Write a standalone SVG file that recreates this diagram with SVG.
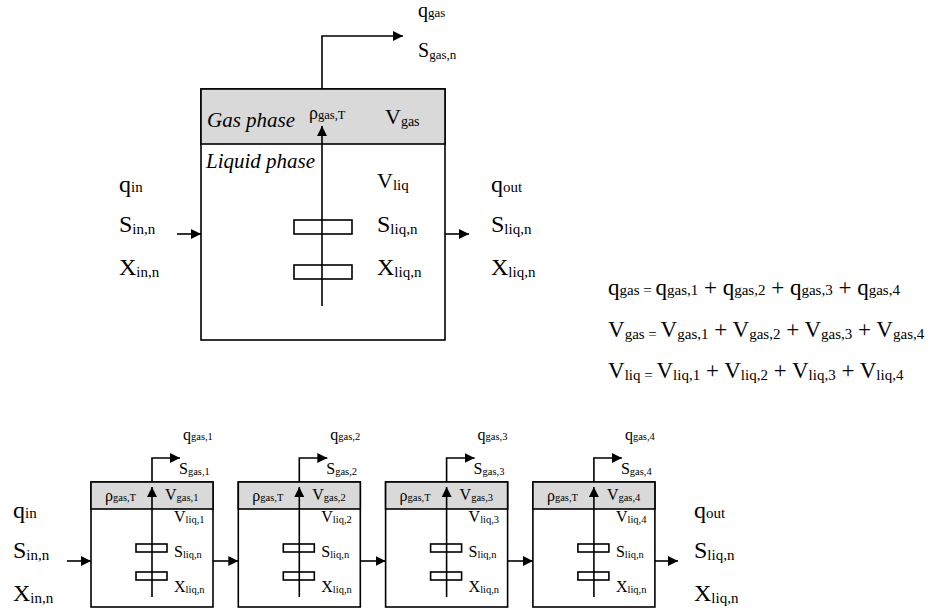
<svg xmlns="http://www.w3.org/2000/svg" width="933" height="610" viewBox="0 0 933 610">
<style>
text{font-family:"Liberation Serif","Times New Roman",serif;fill:#000}
.L{font-size:24px}.Ls{font-size:15px}
.K{font-size:22px}.Ks{font-size:14px}
.G{font-size:20px}.Gs{font-size:13px}
.R{font-size:18px}.Rs{font-size:12.5px}
.M{font-size:16px}.Ms{font-size:10.5px}
.E{font-size:23px}.Es{font-size:15px}
.I{font-size:21px;font-style:italic}
.box{fill:#fff;stroke:#000;stroke-width:1.6}
.gas{fill:#d9d9d9;stroke:#000;stroke-width:1.6}
.ar{fill:none;stroke:#000;stroke-width:1.6;marker-end:url(#ah)}
.el{fill:#fff;stroke:#000;stroke-width:1.6}
</style>
<defs>
<marker id="ah" markerUnits="userSpaceOnUse" markerWidth="11" markerHeight="10" refX="10" refY="5" orient="auto">
<path d="M0,0 L10,5 L0,10 z" fill="#000"/>
</marker>
<g id="bbox">
<rect class="box" x="0" y="0" width="122" height="125"/>
<rect class="gas" x="0" y="0" width="122" height="27"/>
<rect class="el" x="45" y="62" width="31" height="8"/>
<rect class="el" x="45" y="90" width="31" height="8"/>
</g>
</defs>

<!-- Top big reactor -->
<g id="reactor">
<rect class="box" x="201" y="89" width="244" height="251"/>
<rect class="gas" x="201" y="89" width="244" height="55"/>
<rect class="el" x="294" y="220" width="58" height="14"/>
<rect class="el" x="294" y="265" width="58" height="14"/>
<text class="I" x="207" y="127">Gas phase</text>
<text class="I" x="206" y="168">Liquid phase</text>
<text x="309" y="119"><tspan class="R">ρ</tspan><tspan class="Rs">gas,T</tspan></text>
<text x="385" y="124"><tspan class="K">V</tspan><tspan class="Ks" dy="2">gas</tspan></text>
<text x="377" y="188"><tspan class="K">V</tspan><tspan class="Ls" dy="2">liq</tspan></text>
<text x="377" y="232"><tspan class="L">S</tspan><tspan class="Ls" dy="2">liq,n</tspan></text>
<text x="377" y="275"><tspan class="L">X</tspan><tspan class="Ls" dy="2">liq,n</tspan></text>
</g>

<g id="top-labels">
<text x="119" y="192"><tspan class="L">q</tspan><tspan class="Ls">in</tspan></text>
<text x="119" y="232"><tspan class="L">S</tspan><tspan class="Ls" dy="2">in,n</tspan></text>
<text x="119" y="275"><tspan class="L">X</tspan><tspan class="Ls" dy="2">in,n</tspan></text>
<text x="491" y="192"><tspan class="L">q</tspan><tspan class="Ls">out</tspan></text>
<text x="491" y="232"><tspan class="L">S</tspan><tspan class="Ls" dy="2">liq,n</tspan></text>
<text x="491" y="275"><tspan class="L">X</tspan><tspan class="Ls" dy="2">liq,n</tspan></text>
<text x="418" y="17"><tspan class="G">q</tspan><tspan class="Gs">gas</tspan></text>
<text x="418" y="57"><tspan class="G">S</tspan><tspan class="Gs" dy="2">gas,n</tspan></text>
</g>

<g id="equations">
<text x="608" y="295"><tspan class="E">q</tspan><tspan class="Es">gas = </tspan><tspan class="E">q</tspan><tspan class="Es">gas,1</tspan><tspan class="E"> + q</tspan><tspan class="Es">gas,2</tspan><tspan class="E"> + q</tspan><tspan class="Es">gas,3</tspan><tspan class="E"> + q</tspan><tspan class="Es">gas,4</tspan></text>
<text x="608" y="337"><tspan class="E">V</tspan><tspan class="Es" dy="2">gas = </tspan><tspan class="E" dy="-2">V</tspan><tspan class="Es" dy="2">gas,1</tspan><tspan class="E" dy="-2"> + V</tspan><tspan class="Es" dy="2">gas,2</tspan><tspan class="E" dy="-2"> + V</tspan><tspan class="Es" dy="2">gas,3</tspan><tspan class="E" dy="-2"> + V</tspan><tspan class="Es" dy="2">gas,4</tspan></text>
<text x="608" y="378"><tspan class="E">V</tspan><tspan class="Es" dy="2">liq = </tspan><tspan class="E" dy="-2">V</tspan><tspan class="Es" dy="2">liq,1</tspan><tspan class="E" dy="-2"> + V</tspan><tspan class="Es" dy="2">liq,2</tspan><tspan class="E" dy="-2"> + V</tspan><tspan class="Es" dy="2">liq,3</tspan><tspan class="E" dy="-2"> + V</tspan><tspan class="Es" dy="2">liq,4</tspan></text>
</g>

<!-- Bottom series of reactors -->
<g id="r1" transform="translate(91,482)">
<use href="#bbox"/>
<text x="14" y="19"><tspan class="M">ρ</tspan><tspan class="Ms">gas,T</tspan></text>
<text x="74" y="18"><tspan class="M">V</tspan><tspan class="Ms" dy="1">gas,1</tspan></text>
<text x="83" y="40"><tspan class="M">V</tspan><tspan class="Ms" dy="1">liq,1</tspan></text>
<text x="83" y="75"><tspan class="M">S</tspan><tspan class="Ms" dy="1">liq,n</tspan></text>
<text x="83" y="110"><tspan class="M">X</tspan><tspan class="Ms" dy="1">liq,n</tspan></text>
<text x="92" y="-42"><tspan class="M">q</tspan><tspan class="Ms">gas,1</tspan></text>
<text x="88" y="-8"><tspan class="M">S</tspan><tspan class="Ms" dy="1">gas,1</tspan></text>
</g>
<g id="r2" transform="translate(238.3,482)">
<use href="#bbox"/>
<text x="14" y="19"><tspan class="M">ρ</tspan><tspan class="Ms">gas,T</tspan></text>
<text x="74" y="18"><tspan class="M">V</tspan><tspan class="Ms" dy="1">gas,2</tspan></text>
<text x="83" y="40"><tspan class="M">V</tspan><tspan class="Ms" dy="1">liq,2</tspan></text>
<text x="83" y="75"><tspan class="M">S</tspan><tspan class="Ms" dy="1">liq,n</tspan></text>
<text x="83" y="110"><tspan class="M">X</tspan><tspan class="Ms" dy="1">liq,n</tspan></text>
<text x="92" y="-42"><tspan class="M">q</tspan><tspan class="Ms">gas,2</tspan></text>
<text x="88" y="-8"><tspan class="M">S</tspan><tspan class="Ms" dy="1">gas,2</tspan></text>
</g>
<g id="r3" transform="translate(385.6,482)">
<use href="#bbox"/>
<text x="14" y="19"><tspan class="M">ρ</tspan><tspan class="Ms">gas,T</tspan></text>
<text x="74" y="18"><tspan class="M">V</tspan><tspan class="Ms" dy="1">gas,3</tspan></text>
<text x="83" y="40"><tspan class="M">V</tspan><tspan class="Ms" dy="1">liq,3</tspan></text>
<text x="83" y="75"><tspan class="M">S</tspan><tspan class="Ms" dy="1">liq,n</tspan></text>
<text x="83" y="110"><tspan class="M">X</tspan><tspan class="Ms" dy="1">liq,n</tspan></text>
<text x="92" y="-42"><tspan class="M">q</tspan><tspan class="Ms">gas,3</tspan></text>
<text x="88" y="-8"><tspan class="M">S</tspan><tspan class="Ms" dy="1">gas,3</tspan></text>
</g>
<g id="r4" transform="translate(532.9,482)">
<use href="#bbox"/>
<text x="14" y="19"><tspan class="M">ρ</tspan><tspan class="Ms">gas,T</tspan></text>
<text x="74" y="18"><tspan class="M">V</tspan><tspan class="Ms" dy="1">gas,4</tspan></text>
<text x="83" y="40"><tspan class="M">V</tspan><tspan class="Ms" dy="1">liq,4</tspan></text>
<text x="83" y="75"><tspan class="M">S</tspan><tspan class="Ms" dy="1">liq,n</tspan></text>
<text x="83" y="110"><tspan class="M">X</tspan><tspan class="Ms" dy="1">liq,n</tspan></text>
<text x="92" y="-42"><tspan class="M">q</tspan><tspan class="Ms">gas,4</tspan></text>
<text x="88" y="-8"><tspan class="M">S</tspan><tspan class="Ms" dy="1">gas,4</tspan></text>
</g>

<g id="bottom-labels">
<text x="13" y="518"><tspan class="L">q</tspan><tspan class="Ls">in</tspan></text>
<text x="13" y="558"><tspan class="L">S</tspan><tspan class="Ls" dy="2">in,n</tspan></text>
<text x="13" y="601"><tspan class="L">X</tspan><tspan class="Ls" dy="2">in,n</tspan></text>
<text x="694" y="518"><tspan class="L">q</tspan><tspan class="Ls">out</tspan></text>
<text x="694" y="558"><tspan class="L">S</tspan><tspan class="Ls" dy="2">liq,n</tspan></text>
<text x="694" y="601"><tspan class="L">X</tspan><tspan class="Ls" dy="2">liq,n</tspan></text>
</g>

<g id="connectors">
<path class="ar" d="M322,306 V126"/>
<path class="ar" d="M322,89 V36 H403"/>
<path class="ar" d="M177,234 H201"/>
<path class="ar" d="M445,234 H469"/>
<path class="ar" d="M152,597 V487"/>
<path class="ar" d="M152,482 V458 H180"/>
<path class="ar" d="M299.3,597 V487"/>
<path class="ar" d="M299.3,482 V458 H327.3"/>
<path class="ar" d="M446.6,597 V487"/>
<path class="ar" d="M446.6,482 V458 H474.6"/>
<path class="ar" d="M593.9,597 V487"/>
<path class="ar" d="M593.9,482 V458 H621.9"/>
<path class="ar" d="M67,561 H91"/>
<path class="ar" d="M213,561 H238.3"/>
<path class="ar" d="M360.3,561 H385.6"/>
<path class="ar" d="M507.6,561 H532.9"/>
<path class="ar" d="M654.9,561 H678"/>
</g>
</svg>
